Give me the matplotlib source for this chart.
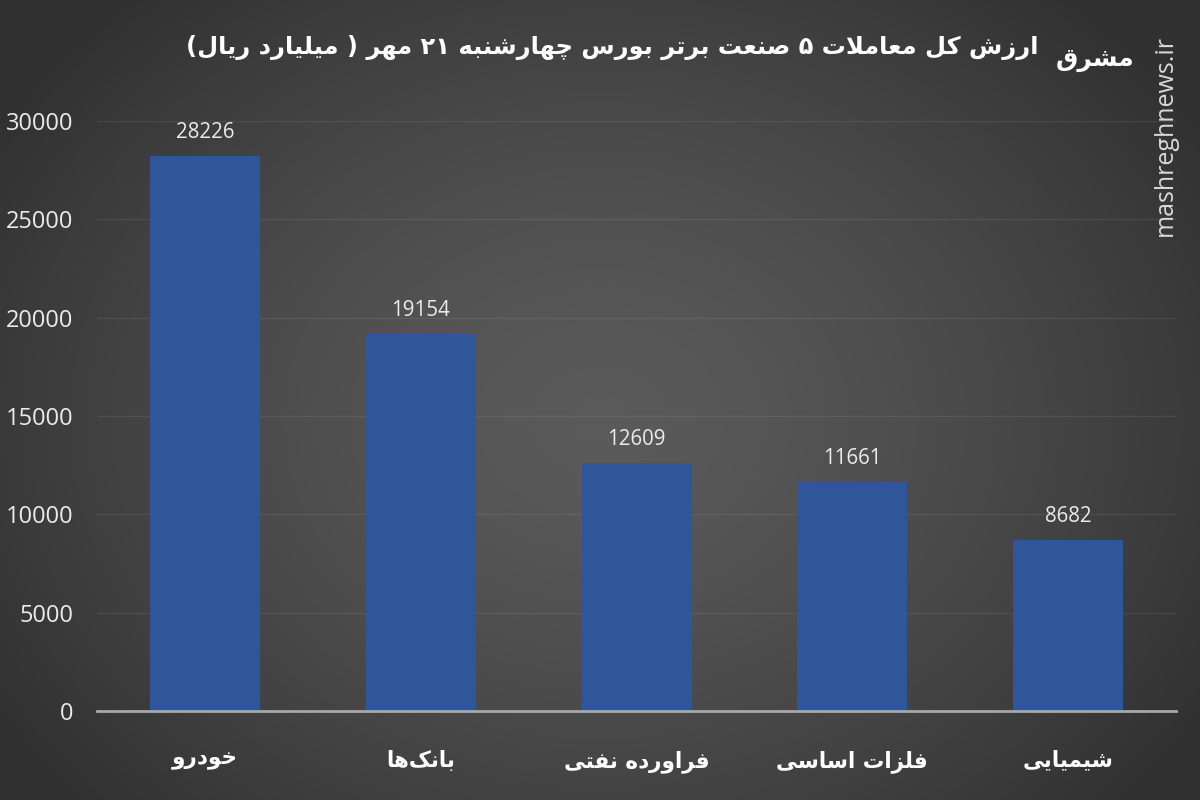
import re
import numpy as np
import matplotlib
matplotlib.use('Agg')
import matplotlib.pyplot as plt

# داده‌ها
categories = ['خودرو', 'بانک‌ها', 'فراورده نفتی', 'فلزات اساسی', 'شیمیایی']
values = [28226, 19154, 12609, 11661, 8682]
yticks = [0, 5000, 10000, 15000, 20000, 25000, 30000]
title = 'ارزش کل معاملات ۵ صنعت برتر بورس چهارشنبه ۲۱ مهر ( میلیارد ریال)'
logo = 'مشرق'
site = 'mashreghnews.ir'

# حروف: (تنها، پایانی، آغازی، میانی)
FORMS = {
    'ا': (0xFE8D, 0xFE8E, None, None),
    'ب': (0xFE8F, 0xFE90, 0xFE91, 0xFE92),
    'ت': (0xFE95, 0xFE96, 0xFE97, 0xFE98),
    'خ': (0xFEA5, 0xFEA6, 0xFEA7, 0xFEA8),
    'د': (0xFEA9, 0xFEAA, None, None),
    'ر': (0xFEAD, 0xFEAE, None, None),
    'ز': (0xFEAF, 0xFEB0, None, None),
    'س': (0xFEB1, 0xFEB2, 0xFEB3, 0xFEB4),
    'ش': (0xFEB5, 0xFEB6, 0xFEB7, 0xFEB8),
    'ص': (0xFEB9, 0xFEBA, 0xFEBB, 0xFEBC),
    'ع': (0xFEC9, 0xFECA, 0xFECB, 0xFECC),
    'ف': (0xFED1, 0xFED2, 0xFED3, 0xFED4),
    'ق': (0xFED5, 0xFED6, 0xFED7, 0xFED8),
    'ل': (0xFEDD, 0xFEDE, 0xFEDF, 0xFEE0),
    'م': (0xFEE1, 0xFEE2, 0xFEE3, 0xFEE4),
    'ن': (0xFEE5, 0xFEE6, 0xFEE7, 0xFEE8),
    'ه': (0xFEE9, 0xFEEA, 0xFEEB, 0xFEEC),
    'و': (0xFEED, 0xFEEE, None, None),
    'ک': (0xFB8E, 0xFB8F, 0xFB90, 0xFB91),
    'ی': (0xFBFC, 0xFBFD, 0xFBFE, 0xFBFF),
    'چ': (0xFB7A, 0xFB7B, 0xFB7C, 0xFB7D),
    'لا': (0xFEFB, 0xFEFC, None, None),
}
MIRROR = {'(': ')', ')': '('}


def fa(text):
    """شکل‌دهی حروف و ترتیب راست به چپ برای نمایش در matplotlib"""
    units = []
    i = 0
    while i < len(text):
        if text[i] == 'ل' and i + 1 < len(text) and text[i + 1] == 'ا':
            units.append('لا')
            i += 2
        else:
            units.append(text[i])
            i += 1
    out = []
    for k, u in enumerate(units):
        if u not in FORMS:
            out.append(u)
            continue
        f = FORMS[u]
        prev = units[k - 1] if k > 0 else None
        nxt = units[k + 1] if k + 1 < len(units) else None
        join_prev = prev in FORMS and FORMS[prev][2] is not None
        join_next = f[2] is not None and nxt in FORMS
        if join_prev and join_next:
            c = f[3]
        elif join_prev:
            c = f[1]
        elif join_next:
            c = f[2]
        else:
            c = f[0]
        out.append(chr(c))
    s = ''.join(out).replace('\u200c', '')
    parts = re.findall(r'[0-9۰-۹]+|[^0-9۰-۹]+', s)
    vis = []
    for p in reversed(parts):
        if re.match(r'[0-9۰-۹]', p):
            vis.append(p)
        else:
            vis.append(''.join(MIRROR.get(ch, ch) for ch in reversed(p)))
    return ''.join(vis)


fig = plt.figure(figsize=(12, 8), dpi=100)

# پس‌زمینه با گرادیان شعاعی
bg = fig.add_axes([0, 0, 1, 1], zorder=0)
yy, xx = np.mgrid[0:800, 0:1200]
r = np.sqrt(((xx - 600) / 700.0) ** 2 + ((yy - 420) / 560.0) ** 2)
r = np.clip(r, 0, 1)
g = 0.355 - 0.16 * r ** 1.4
bg.imshow(np.dstack([g, g, g]), aspect='auto', extent=[0, 1, 0, 1])
bg.axis('off')

ax = fig.add_axes([0.081, 0.111, 0.899, 0.738], zorder=1)
ax.patch.set_alpha(0)
x = np.arange(len(categories))
bars = ax.bar(x, values, width=0.51, color='#2f559b', zorder=3)
ax.set_xlim(-0.5, len(categories) - 0.5)
ax.set_ylim(0, 30000)
ax.set_yticks(yticks)
ax.set_yticklabels([str(t) for t in yticks], fontsize=17, color='#ebebeb',
                   family='Open Sans')
ax.set_xticks(x)
ax.set_xticklabels([fa(c) for c in categories], fontsize=15.5, color='white',
                   fontweight='bold', family='DejaVu Sans')
ax.tick_params(axis='both', length=0)
ax.tick_params(axis='y', pad=17)
ax.tick_params(axis='x', pad=28)
for t in yticks[1:]:
    ax.axhline(t, color='#ffffff', alpha=0.07, lw=1, zorder=1)
for sp in ['top', 'right', 'left']:
    ax.spines[sp].set_visible(False)
ax.spines['bottom'].set_color('#a8a8a8')
ax.spines['bottom'].set_linewidth(2)
ax.spines['bottom'].set_zorder(4)

for b, v in zip(bars, values):
    ax.annotate(str(v), (b.get_x() + b.get_width() / 2, v), xytext=(0, 17),
                textcoords='offset points', ha='center', va='center',
                fontsize=14.8, color='#ebebeb', family='Open Sans')

fig.text(0.51, 0.941, fa(title), ha='center', va='center', fontsize=17.4,
         fontweight='bold', color='white', family='DejaVu Sans', zorder=5)

# واترمارک
fig.text(0.9125, 0.925, fa(logo), ha='center', va='center', fontsize=18,
         fontweight='bold', color='white', family='DejaVu Sans', zorder=5)
fig.text(0.9715, 0.831, site, rotation=90, ha='center', va='center',
         fontsize=18, color='#d8d8d8', family='Open Sans', zorder=5)

fig.savefig('out.png', dpi=100)
